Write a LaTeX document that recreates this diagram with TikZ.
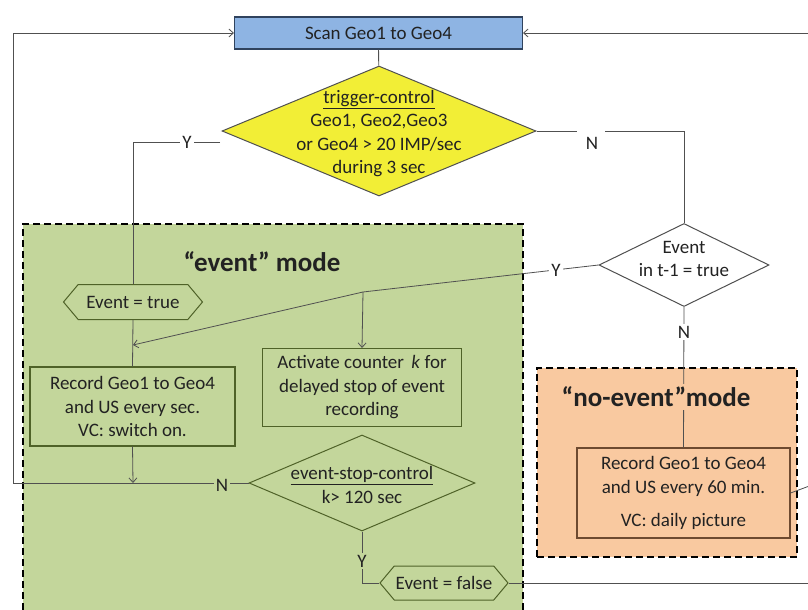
\documentclass[tikz,border=0pt]{standalone}
\usepackage{fontspec}
\setmainfont{Carlito}
\usetikzlibrary{shapes.geometric,shapes.symbols,arrows.meta}

\definecolor{scanblue}{HTML}{8EB4E3}
\definecolor{scanedge}{HTML}{30435E}
\definecolor{trigyellow}{HTML}{F2EE36}
\definecolor{evgreen}{HTML}{C3D69B}
\definecolor{evedge}{HTML}{4F6228}
\definecolor{noevorange}{HTML}{F9C9A0}
\definecolor{noevedge}{HTML}{6E4A30}
\definecolor{txt}{HTML}{222222}
\definecolor{wire}{HTML}{505050}

\tikzset{
  every node/.style={text=txt, font=\fontsize{19}{23.5}\selectfont, align=center},
  conn/.style={draw=wire, line width=0.8pt},
  arr/.style={conn, -{Straight Barb[length=4.5pt,width=8pt]}},
  modebox/.style={draw=black, line width=1.6pt, dash pattern=on 7pt off 4pt, inner sep=0pt},
  procbox/.style={rectangle, draw=evedge, line width=1.1pt, fill=evgreen, inner sep=0pt},
  decision/.style={diamond, inner sep=0pt, line width=1pt},
  flagbox/.style={signal, signal to=west and east, signal pointer angle=100,
                  draw=evedge, fill=evgreen, line width=1pt, inner sep=0pt},
  tag/.style={inner sep=2pt},
  modetitle/.style={font=\fontsize{27}{30}\selectfont\bfseries, inner sep=3pt}
}

\begin{document}
\begin{tikzpicture}[x=1pt, y=-1pt]
\useasboundingbox[fill=white] (0,0) rectangle (808,610);

% mode regions
\node[modebox, fill=evgreen, minimum width=500pt, minimum height=392pt] (evmode) at (273,420) {};
\node[modebox, fill=noevorange, minimum width=260pt, minimum height=189pt] (noevmode) at (667,462.5) {};

% main scan step and trigger decision (diamond outlines carry no text; text sits on top)
\node[rectangle, draw=scanedge, line width=1.1pt, fill=scanblue, minimum width=288pt, minimum height=32pt, inner sep=0pt] (scan) at (378.5,33) {Scan Geo1 to Geo4};
\node[decision, draw=wire, fill=trigyellow, minimum width=314pt, minimum height=130pt] (trig) at (379,131) {};
\node (trigtext) at ([yshift=-2.5pt]trig.center)
  {\underline{trigger-control}\\Geo1, Geo2,Geo3\\or Geo4 > 20 IMP/sec\\during 3 sec};
\node[decision, draw=wire, fill=white, minimum width=170pt, minimum height=83pt] (prev) at (684,265) {};
\node (prevtext) at ([yshift=6pt]prev.center) {Event\\in t-1 = true};

% event mode contents
\node[modetitle] (evtitle) at (262,262) {“event” mode};
\node[flagbox, minimum width=139pt, minimum height=35pt] (evtrue) at (133,302) {Event = true};
\node[procbox, minimum width=205pt, minimum height=79pt] (rec1) at (132.5,406.5)
  {Record Geo1 to Geo4\\and US every sec.\\VC: switch on.};
\node[procbox, minimum width=199pt, minimum height=78pt] (act) at (362,387.5)
  {Activate counter\, \textit{k} for\\delayed stop of event\\recording};
\node[decision, draw=evedge, fill=evgreen, minimum width=226pt, minimum height=96pt] (stop) at (362,483) {};
\node (stoptext) at ([yshift=-2pt]stop.center) {\underline{event-stop-control}\\k> 120 sec};
\node[flagbox, minimum width=128pt, minimum height=34pt] (evfalse) at (444,583) {Event = false};

% no-event mode contents
\node[rectangle, draw=noevedge, line width=1.1pt, fill=noevorange, minimum width=213pt, minimum height=90pt, inner sep=0pt] (rec2) at (683.5,493)
  {Record Geo1 to Geo4\\and US every 60 min.\\[10pt]VC: daily picture};

% branch points and corners
\coordinate (yleft) at (133,142);
\coordinate (ystub) at (220,142);
\coordinate (nlineA) at (577,131);
\coordinate (nlineB) at (605,131);
\coordinate (ncorner) at (684,131);
\coordinate (split) at (363,292);
\coordinate (joinL) at (133,345);
\coordinate (joinN) at (133,483);
\coordinate (loopL) at (13,483);
\coordinate (loopLtop) at (13,33);
\coordinate (ydown) at (362,583);
\coordinate (loopR) at (812,583);
\coordinate (loopRtop) at (812,33);
\coordinate (noevout) at (812,485);

% connectors
\draw[conn] (scan) -- (trig);
\draw[conn] (ystub) -- (yleft) -- (evtrue.north);
\node[tag, fill=white] (ylab) at (187,142) {Y};
\draw[conn] (trig.east) -- (nlineA);
\draw[conn] (nlineB) -- (ncorner) -- (prev.north);
\node[tag] (nlab) at (592,143) {N};

\draw[conn] (prev.west) -- (split);
\node[tag, fill=white] (ylab2) at (556,270) {Y};
\draw[arr] (split) -- (act.north);
\draw[arr] (split) -- (joinL);
\draw[conn] (evtrue.south) -- (rec1.north);

\draw[arr] (rec1.south) -- (joinN);
\draw[arr] (stop.west) -- (loopL) -- (loopLtop) -- (scan.west);
\node[tag, fill=evgreen] (nlab3) at (222,485) {N};

\draw[conn] (stop.south) -- (ydown) -- (evfalse.west);
\node[tag, fill=evgreen] (ylab3) at (362,561) {Y};
\draw[arr] (evfalse.east) -- (loopR) -- (loopRtop) -- (scan.east);
\draw[conn] (rec2.east) -- (noevout);

\draw[conn] (prev.south) -- (rec2.north);
\node[tag, fill=white] (nlab2) at (684,332) {N};
\node[modetitle, fill=noevorange] (noevtitle) at (656,397) {“no-event”mode};
\end{tikzpicture}
\end{document}
